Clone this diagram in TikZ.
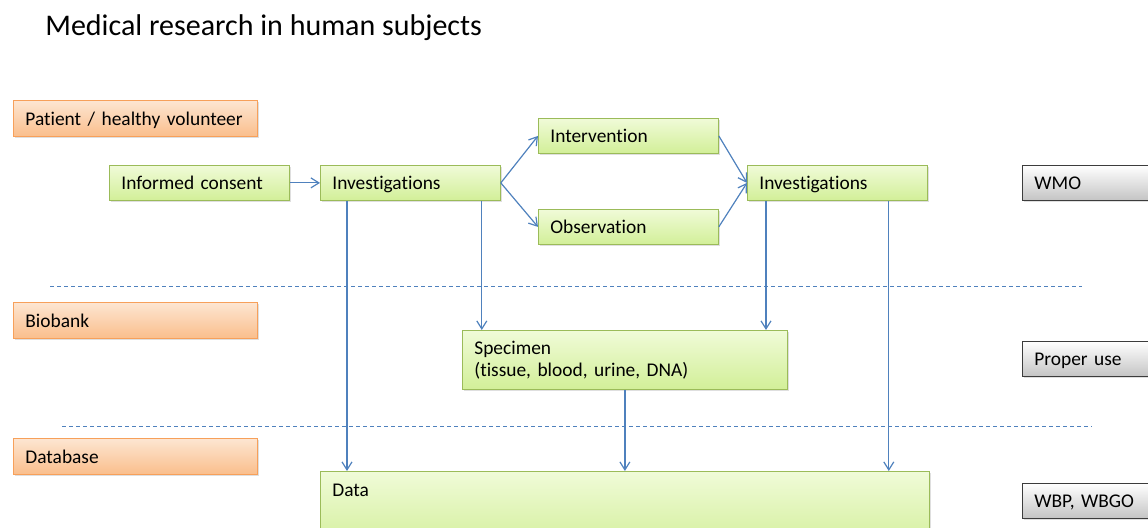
\documentclass[tikz,border=0pt]{standalone}
\usepackage{fontspec}
\setmainfont{Carlito}[Ligatures=NoCommon]
\usetikzlibrary{shadows,arrows.meta}
\definecolor{arrowblue}{RGB}{79,129,189}
\definecolor{greenedge}{RGB}{155,187,89}
\definecolor{greentop}{RGB}{240,251,216}
\definecolor{greenbot}{RGB}{210,239,152}
\definecolor{orangeedge}{RGB}{247,160,90}
\definecolor{orangetop}{RGB}{253,230,210}
\definecolor{orangebot}{RGB}{250,190,140}
\definecolor{grayedge}{RGB}{60,60,60}
\definecolor{graybot}{RGB}{196,196,196}
\tikzset{
  box/.style={anchor=north west, align=left, inner xsep=6pt, inner ysep=0pt,
    font=\fontsize{9.7}{11}\selectfont, text height=8pt, text depth=1pt,
    drop shadow={opacity=0.25, shadow xshift=1pt, shadow yshift=-1pt}},
  stepbox/.style={box, draw=greenedge, top color=greentop, bottom color=greenbot,
    minimum width=90pt, text width=78pt, minimum height=17.5pt},
  levelbox/.style={box, draw=orangeedge, top color=orangetop, bottom color=orangebot,
    minimum width=122pt, text width=110pt, minimum height=18pt},
  lawbox/.style={box, draw=grayedge, top color=white, bottom color=graybot,
    minimum width=70pt, text width=58pt, minimum height=17.5pt},
  flow/.style={draw=arrowblue, line width=0.6pt, -{Straight Barb[length=4pt,width=5pt]}},
  divider/.style={draw=arrowblue, line width=0.5pt, dash pattern=on 2pt off 1.5pt}
}
\begin{document}
\begin{tikzpicture}[x=0.5pt, y=-0.5pt]
	%%%%% START %%%%%
	\useasboundingbox (0, 0) rectangle (1148, 528);
	\clip (0, 0) rectangle (1148, 528);
	
	\node[anchor=west, inner sep=0pt, font=\fontsize{15}{18}\selectfont] (title) at (45, 28) {Medical research in human subjects};
	
	% left column
	\node[levelbox] (patient) at (13, 100) {Patient / healthy volunteer};
	\node[levelbox] (biobank) at (13, 302) {Biobank};
	\node[levelbox] (database) at (13, 438) {Database};
	
	% right column
	\node[lawbox] (wmo) at (1022, 165) {WMO};
	\node[lawbox] (proper) at (1022, 341) {Proper use};
	\node[lawbox] (wbp) at (1022, 483) {WBP, WBGO};
	
	% dividers
	\draw[divider] (50, 287) -- (1082, 287);
	\draw[divider] (62, 427) -- (1092, 427);
	
	% steps
	\node[stepbox] (consent) at (109, 165) {Informed consent};
	\node[stepbox] (inva) at (320, 165) {Investigations};
	\node[stepbox] (interv) at (538, 118) {Intervention};
	\node[stepbox] (observ) at (538, 209) {Observation};
	\node[stepbox] (invb) at (747, 165) {Investigations};
	\node[stepbox, minimum width=162.5pt, text width=150.5pt, minimum height=29.5pt,
	  text height=, text depth=] (specimen) at (462, 330) {Specimen\\(tissue, blood, urine, DNA)};
	\node[stepbox, minimum width=304.5pt, text width=292.5pt, minimum height=40pt] (data) at (320, 471) {};
	\node[anchor=west, inner sep=0pt, font=\fontsize{9.7}{11}\selectfont] (datatext) at ([xshift=6pt, yshift=-9.5pt]data.north west) {Data};
	
	% connectors
	\draw[flow] (consent) -- (inva);
	\draw[flow] (inva.east) -- (interv.west);
	\draw[flow] (inva.east) -- (observ.west);
	\draw[flow] (interv.east) -- (invb.west);
	\draw[flow] (observ.east) -- (invb.west);
	\draw[flow] ([xshift=13.5pt]inva.south west) -- ([xshift=13.5pt]inva.south west |- data.north);
	\draw[flow] ([xshift=-9.5pt]inva.south east) -- ([xshift=-9.5pt]inva.south east |- specimen.north);
	\draw[flow] ([xshift=9.5pt]invb.south west) -- ([xshift=9.5pt]invb.south west |- specimen.north);
	\draw[flow] ([xshift=-19.5pt]invb.south east) -- ([xshift=-19.5pt]invb.south east |- data.north);
	\draw[flow] (specimen.south) -- (specimen.south |- data.north);
	%%%%% END %%%%%
\end{tikzpicture}
\end{document}
